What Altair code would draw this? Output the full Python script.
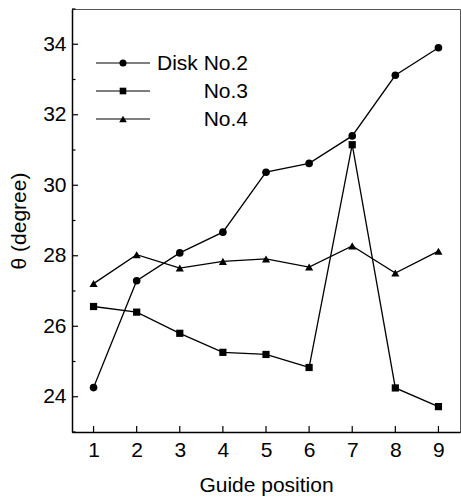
import altair as alt
import pandas as pd

positions = [1, 2, 3, 4, 5, 6, 7, 8, 9]
disk2 = [24.26, 27.29, 28.08, 28.67, 30.37, 30.62, 31.40, 33.12, 33.90]
disk3 = [26.56, 26.40, 25.80, 25.26, 25.20, 24.83, 31.15, 24.25, 23.72]
disk4 = [27.21, 28.03, 27.65, 27.84, 27.91, 27.68, 28.28, 27.51, 28.13]
series_names = ["Disk No.2", "No.3", "No.4"]
shapes = ["circle", "square", "triangle-up"]

y_major = [24, 26, 28, 30, 32, 34]
y_minor = [23, 25, 27, 29, 31, 33, 35]
x_major = positions

rows = []
for name, vals in zip(series_names, [disk2, disk3, disk4]):
    for p, v in zip(positions, vals):
        rows.append({"pos": p, "theta": v, "series": name})
df = pd.DataFrame(rows)

FONT = "Liberation Sans"
W, H = 388, 423
sizes = [58, 52, 66]

xs = alt.Scale(domain=[0.5, 9.5], nice=False, zero=False)
ys = alt.Scale(domain=[23, 35], nice=False, zero=False)

base = alt.Chart(df)

layers = []
for name, shp, size in zip(series_names, shapes, sizes):
    sub = base.transform_filter(alt.datum.series == name)
    layers.append(
        sub.mark_line(color="black", strokeWidth=1.3).encode(
            x=alt.X("pos:Q", scale=xs,
                    axis=alt.Axis(title="Guide position", values=x_major, ticks=False,
                                  grid=False, labelPadding=7, titlePadding=14,
                                  domainColor="black", domainWidth=1.5)),
            y=alt.Y("theta:Q", scale=ys,
                    axis=alt.Axis(title="θ (degree)", values=y_major, ticks=False,
                                  grid=False, labelPadding=6, titlePadding=13,
                                  domainColor="black", domainWidth=1.5)),
        )
    )
    layers.append(
        sub.mark_point(shape=shp, filled=True, color="black", opacity=1, size=size).encode(
            x=alt.X("pos:Q", scale=xs), y=alt.Y("theta:Q", scale=ys)
        )
    )

# inward ticks
ymaj = alt.Chart(pd.DataFrame({"v": y_major})).mark_rule(color="black", strokeWidth=1.2).encode(
    y=alt.Y("v:Q", scale=ys), x=alt.value(0), x2=alt.value(6))
ymin = alt.Chart(pd.DataFrame({"v": y_minor})).mark_rule(color="black", strokeWidth=1.2).encode(
    y=alt.Y("v:Q", scale=ys), x=alt.value(0), x2=alt.value(3.5))
xmaj = alt.Chart(pd.DataFrame({"v": x_major})).mark_rule(color="black", strokeWidth=1.2).encode(
    x=alt.X("v:Q", scale=xs), y=alt.value(H), y2=alt.value(H - 6))
layers += [ymaj, ymin, xmaj]

# legend
leg_y = [54, 82, 110]
for name, shp, size, ly in zip(series_names, shapes, sizes, leg_y):
    one = alt.Chart(pd.DataFrame({"label": [name]}))
    layers.append(one.mark_rule(color="black", strokeWidth=1.2).encode(
        x=alt.value(24), x2=alt.value(78), y=alt.value(ly)))
    layers.append(one.mark_point(shape=shp, filled=True, color="black", opacity=1, size=size - 8).encode(
        x=alt.value(51), y=alt.value(ly)))
    layers.append(one.mark_text(font=FONT, fontSize=21, align="right", baseline="middle",
                                color="black").encode(
        x=alt.value(176), y=alt.value(ly + 1), text="label:N"))

chart = alt.layer(*layers).properties(
    width=W, height=H,
    autosize=alt.AutoSizeParams(type="none"),
    padding={"left": 72, "top": 9, "right": 1, "bottom": 68},
    background="white",
).configure_view(
    stroke="#555", strokeWidth=1
).configure_axis(
    labelFont=FONT, titleFont=FONT, labelFontSize=21, titleFontSize=21,
    labelColor="black", titleColor="black", titleFontWeight="normal",
)

chart.save("out.html", embed_options={"renderer": "svg", "actions": False})
